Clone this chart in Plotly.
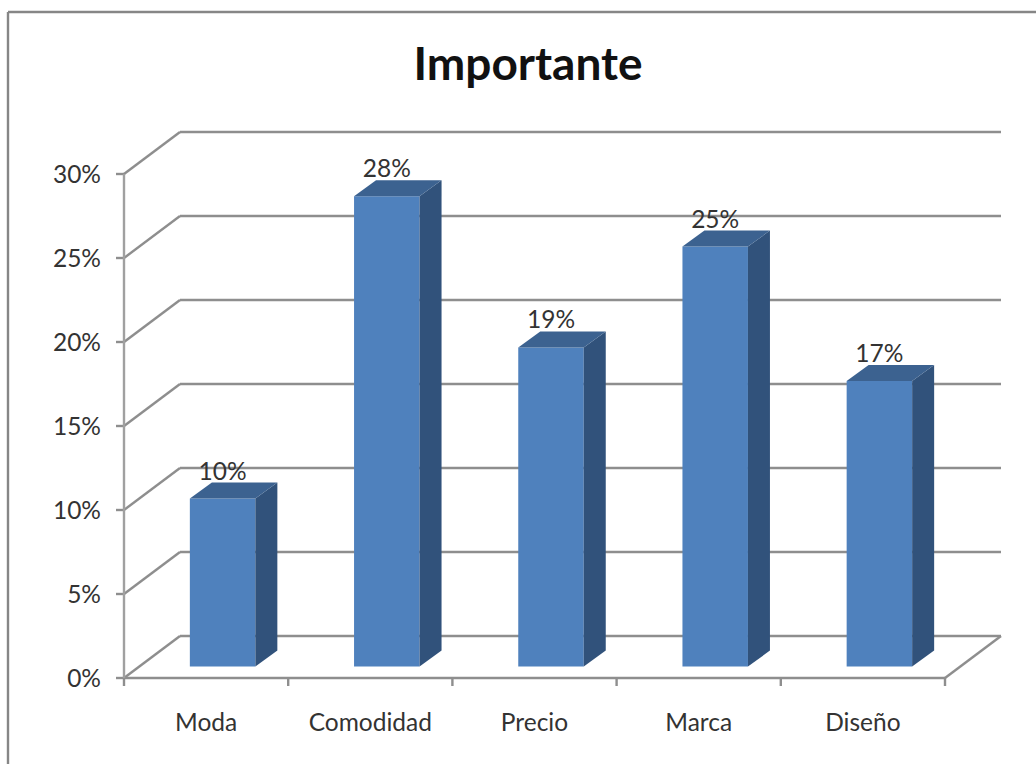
import plotly.graph_objects as go

categories = ["Moda", "Comodidad", "Precio", "Marca", "Diseño"]
values = [10, 28, 19, 25, 17]
y_ticks = [0, 5, 10, 15, 20, 25, 30]
y_tick_labels = ["0%", "5%", "10%", "15%", "20%", "25%", "30%"]

FONT = "Lato"
TEXT = "#333333"
GRID = "#8E8E8E"
FRONT = "#4F81BD"
SIDE = "#31527B"
TOP = "#3C6290"

# Pixel scale of the plot, used to express the oblique depth in data units
PX_X = 164.2
PX_Y = 16.8
WALL_DX, WALL_DY = 56 / PX_X, 42 / PX_Y
BAR_DX, BAR_DY = 22 / PX_X, 16 / PX_Y
BAR_SHIFT = 16.5 / PX_X
BAR_FLOOR = 0.68
BAR_WIDTH = 65.5 / PX_X
X0, X1 = -0.5, len(categories) - 0.5

fig = go.Figure()

# Front faces
fig.add_bar(
    x=[i + BAR_SHIFT for i in range(len(values))],
    y=values,
    base=BAR_FLOOR,
    width=BAR_WIDTH,
    marker=dict(color=FRONT, line=dict(width=0)),
    showlegend=False,
)

# Side and top faces of each column
for i, v in enumerate(values):
    left = i + BAR_SHIFT - BAR_WIDTH / 2
    right = i + BAR_SHIFT + BAR_WIDTH / 2
    top = v + BAR_FLOOR
    fig.add_scatter(
        x=[right, right + BAR_DX, right + BAR_DX, right, right],
        y=[BAR_FLOOR, BAR_FLOOR + BAR_DY, top + BAR_DY, top, BAR_FLOOR],
        mode="lines", fill="toself", fillcolor=SIDE,
        line=dict(width=0), showlegend=False, hoverinfo="skip",
    )
    fig.add_scatter(
        x=[left, left + BAR_DX, right + BAR_DX, right, left],
        y=[top, top + BAR_DY, top + BAR_DY, top, top],
        mode="lines", fill="toself", fillcolor=TOP,
        line=dict(width=0), showlegend=False, hoverinfo="skip",
    )

# Value labels sitting on the back edge of each column
fig.add_scatter(
    x=[i + BAR_SHIFT for i in range(len(values))],
    y=[v + BAR_FLOOR + BAR_DY * 0.8 for v in values],
    mode="text",
    text=[f"{v}%" for v in values],
    textposition="top center",
    textfont=dict(family=FONT, size=24.5, color=TEXT),
    showlegend=False, hoverinfo="skip",
)


def seg(xa, ya, xb, yb, color=GRID, width=2.4):
    return dict(type="line", xref="x", yref="y", x0=xa, y0=ya, x1=xb, y1=yb,
                layer="below", line=dict(color=color, width=width))


shapes = []
# Gridlines: oblique run on the side wall, then along the back wall
for t in y_ticks:
    shapes.append(seg(X0, t, X0 + WALL_DX, t + WALL_DY))
    shapes.append(seg(X0 + WALL_DX, t + WALL_DY, X1 + WALL_DX, t + WALL_DY))
    shapes.append(seg(X0 - 8 / PX_X, t, X0, t))
# Floor edge and axis lines
shapes.append(seg(X1, 0, X1 + WALL_DX, WALL_DY))
shapes.append(seg(X0, 0, X1, 0))
shapes.append(seg(X0, 0, X0, y_ticks[-1], color="#A0A0A0"))
# Category separators
for i in range(len(categories) + 1):
    shapes.append(seg(X0 + i, 0, X0 + i, -8 / PX_Y))
# Chart frame, open towards the right and bottom
for xa, ya, xb, yb in [(8, 12, 1036, 12), (8, 12, 8, 764)]:
    shapes.append(dict(
        type="line", xref="paper", yref="paper", layer="below",
        x0=(xa - 114) / (1005 - 114), x1=(xb - 114) / (1005 - 114),
        y0=(688 - ya) / (688 - 128), y1=(688 - yb) / (688 - 128),
        line=dict(color="#868686", width=2.4),
    ))

fig.update_layout(
    width=1036,
    height=764,
    margin=dict(l=114, r=31, t=128, b=76),
    paper_bgcolor="white",
    plot_bgcolor="white",
    barmode="overlay",
    showlegend=False,
    shapes=shapes,
    title=dict(
        text="<b>Importante</b>",
        x=528 / 1036, xanchor="center",
        y=1 - 64 / 764, yanchor="middle",
        font=dict(family=FONT, size=46, color="#111111"),
    ),
    xaxis=dict(
        range=[X0 - 10 / PX_X, X1 + WALL_DX + 4 / PX_X],
        tickmode="array",
        tickvals=list(range(len(categories))),
        ticktext=categories,
        ticks="",
        showgrid=False, zeroline=False, showline=False,
        ticklabelstandoff=17,
        tickfont=dict(family=FONT, size=24.5, color=TEXT),
    ),
    yaxis=dict(
        range=[-10 / PX_Y, y_ticks[-1] + WALL_DY + 4 / PX_Y],
        tickmode="array",
        tickvals=y_ticks,
        ticktext=y_tick_labels,
        ticks="",
        showgrid=False, zeroline=False, showline=False,
        ticklabelstandoff=12,
        tickfont=dict(family=FONT, size=24.5, color=TEXT),
    ),
)

fig.write_html("out.html")
